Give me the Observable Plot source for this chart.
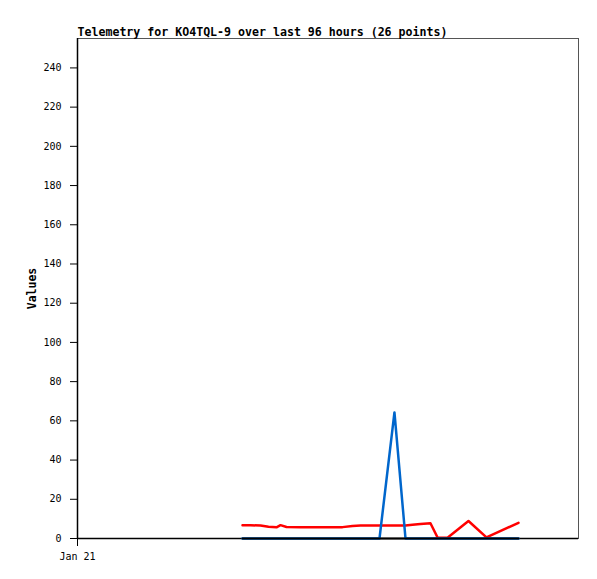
<!DOCTYPE html>
<html>
<head>
<meta charset="utf-8">
<script src="https://cdn.jsdelivr.net/npm/d3@7"></script>
<script src="https://cdn.jsdelivr.net/npm/@observablehq/plot@0.6"></script>
<style>
  body { margin: 0; background: #fff; }
  #chart svg [aria-label="y-axis label"] text { font-weight: bold; font-size: 11.5px; }
</style>
</head>
<body>
<div id="chart"></div>
<script>
const titleText = "Telemetry for KO4TQL-9 over last 96 hours (26 points)";
const yLabel = "Values";
const times = [
  "2024-01-22T07:37Z","2024-01-22T09:09Z","2024-01-22T11:04Z","2024-01-22T12:36Z",
  "2024-01-22T14:08Z","2024-01-22T14:54Z","2024-01-22T16:03Z","2024-01-22T18:44Z",
  "2024-01-22T20:39Z","2024-01-22T22:34Z","2024-01-23T00:29Z","2024-01-23T02:47Z",
  "2024-01-23T04:41Z","2024-01-23T06:14Z","2024-01-23T07:23Z","2024-01-23T09:52Z",
  "2024-01-23T12:44Z","2024-01-23T14:51Z","2024-01-23T16:11Z","2024-01-23T17:43Z",
  "2024-01-23T19:38Z","2024-01-23T21:01Z","2024-01-23T22:54Z","2024-01-24T02:55Z",
  "2024-01-24T06:22Z","2024-01-24T12:30Z"
];
const redValues = [6.8,6.8,6.6,6.0,5.7,6.8,5.9,5.8,5.8,5.8,5.8,5.8,6.4,6.6,6.6,6.6,6.6,6.6,7.0,7.4,7.8,0.4,0.4,8.9,0.6,8.0];
const blueValues = [0,0,0,0,0,0,0,0,0,0,0,0,0,0,0,0,64.3,0,0,0,0,0,0,0,0,0];
const blackValues = [0,0,0,0,0,0,0,0,0,0,0,0,0,0,0,0,0,0,0,0,0,0,0,0,0,0];
const xStart = "2024-01-21T00:00Z";
const xEnd = "2024-01-25T00:00Z";
const xTicks = ["2024-01-21T00:00Z"];
const yTicks = [0,20,40,60,80,100,120,140,160,180,200,220,240];
const yMax = 255;

const rows = times.map((t, i) => ({t: new Date(t), red: redValues[i], blue: blueValues[i], black: blackValues[i]}));
const x0 = new Date(xStart);

const plot = Plot.plot({
  width: 597,
  height: 579,
  marginLeft: 77,
  marginRight: 19,
  marginTop: 38,
  marginBottom: 41,
  style: {fontFamily: "DejaVu Sans Mono", fontSize: "10px", color: "#000", background: "#fff"},
  x: {type: "utc", domain: [x0, new Date(xEnd)]},
  y: {domain: [0, yMax]},
  marks: [
    Plot.frame({stroke: "#555"}),
    Plot.axisY({ticks: yTicks, tickSize: 7, tickPadding: 9, label: yLabel, labelAnchor: "center", labelOffset: 50, labelArrow: "none"}),
    Plot.axisX({ticks: xTicks.map(d => new Date(d)), tickFormat: d3.utcFormat("%b %d"), tickSize: 8, tickPadding: 6, label: null}),
    Plot.ruleX([x0], {stroke: "#000", strokeWidth: 1.5}),
    Plot.ruleY([0], {stroke: "#000", strokeWidth: 1.5}),
    Plot.lineY(rows, {x: "t", y: "red", stroke: "#ff0000", strokeWidth: 2.5}),
    Plot.lineY(rows, {x: "t", y: "blue", stroke: "#0066cc", strokeWidth: 2.5}),
    Plot.lineY(rows, {x: "t", y: "black", stroke: "#000", strokeWidth: 2.2}),
    Plot.text([titleText], {text: d => d, frameAnchor: "top-left", textAnchor: "start", lineAnchor: "bottom", dy: -3, fontWeight: "bold", fontSize: 11.6, fill: "#000"})
  ]
});
document.getElementById("chart").appendChild(plot);
</script>
</body>
</html>
